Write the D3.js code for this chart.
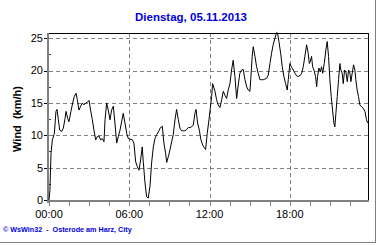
<!DOCTYPE html>
<html><head><meta charset="utf-8">
<script src="https://cdn.jsdelivr.net/npm/d3@7"></script>
<style>html,body{margin:0;padding:0;background:#fff}svg{display:block}text{white-space:pre}</style>
</head><body>
<script>
const hours = [0.00,0.07,0.15,0.25,0.40,0.52,0.60,0.70,0.80,0.95,1.07,1.20,1.27,1.40,1.49,1.64,1.77,1.89,2.02,2.12,2.24,2.37,2.49,2.62,2.74,2.86,2.99,3.11,3.24,3.36,3.49,3.61,3.74,3.86,3.99,4.11,
4.19,4.31,4.43,4.56,4.68,4.81,4.93,5.06,5.18,5.31,5.43,5.55,5.68,5.81,5.93,6.05,6.23,6.35,6.48,6.60,6.73,6.85,6.97,7.05,7.17,7.30,7.42,7.55,7.67,7.80,7.92,8.05,8.25,
8.30,8.47,8.59,8.72,8.80,8.92,9.04,9.17,9.29,9.42,9.54,9.67,9.79,9.92,10.04,10.16,10.29,10.41,10.54,10.66,10.79,10.91,10.99,11.11,11.24,11.36,11.49,11.61,11.71,11.83,11.96,12.06,12.16,12.23,
12.41,12.53,12.65,12.78,12.91,13.03,13.15,13.28,13.40,13.53,13.65,13.77,13.90,14.03,14.15,14.27,14.40,14.52,14.65,14.78,14.90,15.02,15.10,15.19,15.27,15.40,15.52,15.64,15.77,15.90,16.02,16.14,16.27,16.39,
16.52,16.64,16.76,16.89,17.02,17.09,17.19,17.32,17.44,17.56,17.69,17.81,17.89,18.01,18.14,18.26,18.39,18.51,18.64,18.76,18.89,19.01,19.13,19.26,19.38,19.46,19.53,19.63,19.71,19.81,19.93,20.01,20.08,20.18,20.28,20.38,20.46,
20.58,20.70,20.80,20.90,21.00,21.10,21.20,21.30,21.37,21.45,21.55,21.65,21.75,21.82,21.92,22.00,22.10,22.20,22.30,22.40,22.50,22.57,22.67,22.77,22.87,22.94,23.04,23.14,23.24,23.37,23.49,23.62,23.74,23.82];
const wind = [0,1.5,7.2,9.3,10.3,13.7,14.0,12.4,10.8,10.6,11.1,12.6,13.7,12.6,12.1,13.7,15.0,16.0,16.5,15.5,13.9,14.5,15.0,14.7,15.0,15.1,15.4,13.9,12.4,10.8,9.3,9.8,9.9,9.3,9.5,9.0,
12.4,15.0,13.9,12.4,13.9,14.5,11.9,8.8,9.8,10.8,12.1,13.4,11.9,10.3,9.5,9.4,9.3,8.8,5.9,5.2,4.6,6.2,8.2,5.9,2.8,0.5,0.3,2.1,5.7,8.2,9.5,10.1,10.8,
11.1,11.4,8.8,7.2,5.8,6.7,7.7,9.0,10.1,12.4,14.0,12.4,11.1,10.7,10.7,10.7,10.9,11.2,11.2,11.3,11.6,13.4,14.0,11.9,10.8,9.3,8.5,8.1,7.8,10.3,12.4,14.2,16.0,18.0,
16.8,15.5,14.7,14.3,15.5,16.8,16.2,15.7,17.0,18.0,20.1,21.6,19.1,15.7,17.8,19.6,20.1,20.2,18.6,17.5,17.0,16.8,19.1,22.2,23.7,22.2,20.6,19.6,18.6,18.6,18.6,18.7,18.8,19.3,
21.1,22.7,24.0,25.0,25.9,25.8,24.5,22.7,20.6,19.1,18.0,17.0,18.6,21.1,20.5,20.1,19.6,19.2,19.1,19.2,19.6,20.6,22.2,24.0,22.7,21.1,21.4,22.2,20.6,20.1,19.1,17.5,19.1,20.4,19.8,20.6,19.6,
21.1,23.2,24.5,22.2,18.6,16.0,13.9,11.9,11.3,13.4,16.0,18.6,21.1,20.1,19.6,18.0,20.1,19.8,18.3,20.1,19.6,18.3,19.6,20.9,20.1,18.6,17.0,16.0,14.7,14.4,14.2,13.7,12.4,11.9];
const yTicks = [0,5,10,15,20,25];
const yMinor = [2.5,7.5,12.5,17.5,22.5];
const xTicks = [0,6,12,18];
const xTickLabels = ["00:00","06:00","12:00","18:00"];
const xMinor = [1.5,3,4.5,7.5,9,10.5,13.5,15,16.5,19.5,21,22.5];
const title = "Dienstag, 05.11.2013";
const yLabel = "Wind  (km/h)";
const credit = "\u00a9 WsWin32  -  Osterode am Harz, City";

const W = 380, H = 245;
const L = 49, R = 368, T = 33, B = 200;
const svg = d3.select("body").append("svg").attr("width", W).attr("height", H)
  .style("font-family", "'Liberation Sans', Arial, sans-serif");

const x = d3.scaleLinear().domain([0, 23.85]).range([L, R]);
const y = d3.scaleLinear().domain([0, 25]).range([B, 38.3]);

// outer frame
svg.append("rect").attr("x", 0).attr("y", 0).attr("width", W).attr("height", H).attr("fill", "#fff");
svg.append("line").attr("x1", 375.5).attr("x2", 375.5).attr("y1", 0).attr("y2", 243).attr("stroke", "#808080");
svg.append("line").attr("x1", 0).attr("x2", 376).attr("y1", 242.5).attr("y2", 242.5).attr("stroke", "#808080");

// grid
const g = svg.append("g");
g.selectAll(".hg").data(yTicks.filter(d => d > 0)).join("line")
  .attr("x1", L).attr("x2", R).attr("y1", d => Math.round(y(d)) + 0.5).attr("y2", d => Math.round(y(d)) + 0.5)
  .attr("stroke", "#808080").attr("stroke-dasharray", "4,3");
g.selectAll(".vg").data(xTicks.filter(d => d > 0)).join("line")
  .attr("y1", T).attr("y2", B).attr("x1", d => Math.round(x(d)) + 0.5).attr("x2", d => Math.round(x(d)) + 0.5)
  .attr("stroke", "#808080").attr("stroke-dasharray", "4,3");

// frame top/right
svg.append("line").attr("x1", L).attr("x2", R + 0.5).attr("y1", T + 0.5).attr("y2", T + 0.5).attr("stroke", "#000");
svg.append("line").attr("x1", R + 0.5).attr("x2", R + 0.5).attr("y1", T).attr("y2", B + 1).attr("stroke", "#000");

// axes (gray)
svg.append("line").attr("x1", L - 1).attr("x2", L - 1).attr("y1", T).attr("y2", B + 3).attr("stroke", "#808080").attr("stroke-width", 2);
svg.append("line").attr("x1", L - 2).attr("x2", R + 1).attr("y1", B + 1).attr("y2", B + 1).attr("stroke", "#808080").attr("stroke-width", 2);

// y ticks
svg.selectAll(".yt").data(yTicks).join("line")
  .attr("x1", L - 5).attr("x2", L - 2).attr("y1", d => Math.round(y(d)) + 0.5).attr("y2", d => Math.round(y(d)) + 0.5)
  .attr("stroke", "#000");
svg.selectAll(".ym").data(yMinor).join("line")
  .attr("x1", L).attr("x2", L + 2).attr("y1", d => Math.round(y(d)) + 0.5).attr("y2", d => Math.round(y(d)) + 0.5)
  .attr("stroke", "#404040");
svg.selectAll(".yl").data(yTicks).join("text")
  .attr("x", L - 6).attr("y", d => y(d)).attr("dy", "0.35em").attr("text-anchor", "end")
  .attr("font-size", 11).text(d => d);

// x ticks
svg.selectAll(".xt").data(xTicks.concat(xMinor)).join("line")
  .attr("x1", d => Math.round(x(d)) + 0.5).attr("x2", d => Math.round(x(d)) + 0.5).attr("y1", B + 2).attr("y2", B + 6)
  .attr("stroke", "#808080");
svg.selectAll(".xl").data(xTicks).join("text")
  .attr("x", d => x(d)).attr("y", 218).attr("text-anchor", "middle")
  .attr("font-size", 11).text((d, i) => xTickLabels[i]);

// line
svg.append("path").datum(hours.map((h, i) => [h, wind[i]]))
  .attr("fill", "none").attr("stroke", "#000").attr("stroke-width", 1)
  .attr("d", d3.line().x(d => x(d[0])).y(d => y(d[1])));

// title
svg.append("text").attr("x", 191).attr("y", 21).attr("text-anchor", "middle")
  .attr("font-size", 11.5).attr("font-weight", "bold").attr("fill", "#0000dd").text(title);

// y label
svg.append("text").attr("transform", "translate(21,119) rotate(-90)").attr("text-anchor", "middle")
  .attr("font-size", 11).attr("font-weight", "bold").attr("fill", "#000").text(yLabel);

// credit
svg.append("text").attr("x", 3).attr("y", 232).attr("font-size", 7.2).attr("font-weight", "bold")
  .attr("fill", "#0000dd").text(credit);
</script>
</body></html>
